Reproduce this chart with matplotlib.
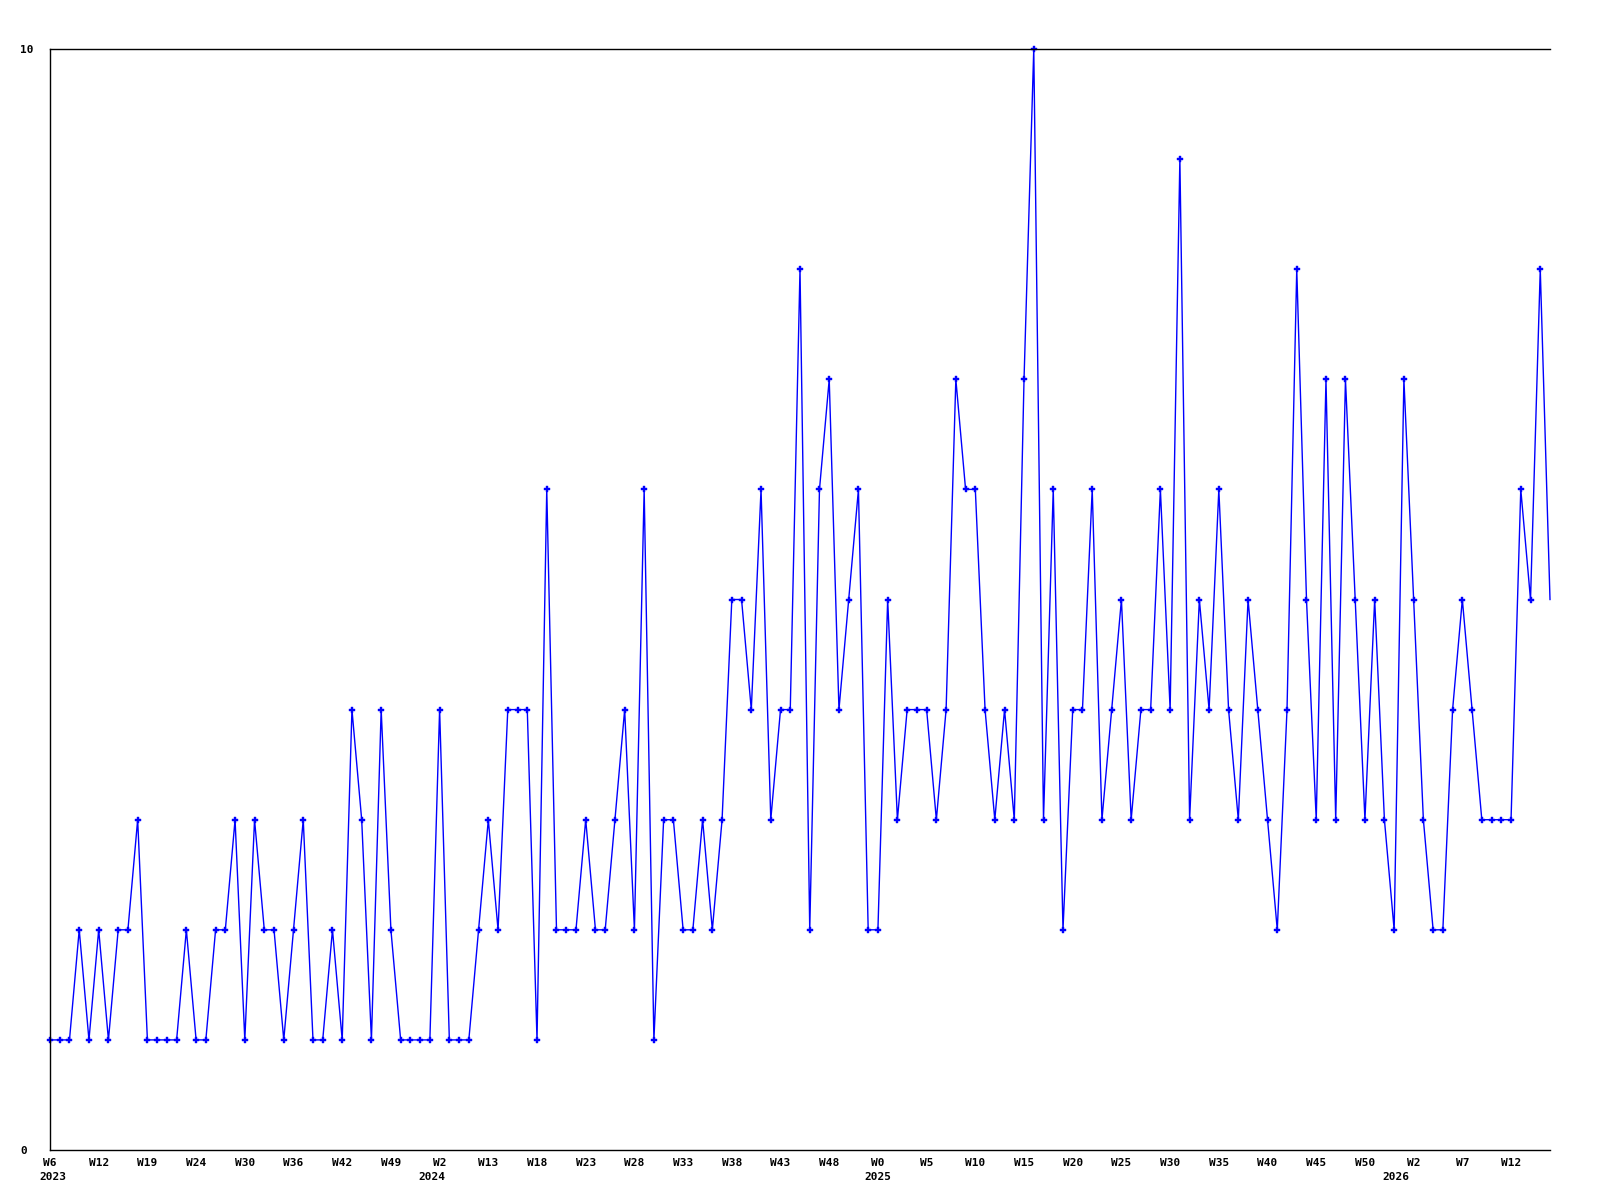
import matplotlib
matplotlib.use("Agg")
import matplotlib.pyplot as plt
import numpy as np

# weekly counts, W6 2023 .. W16 2026
values = [
    1, 1, 1, 2, 1, 2, 1, 2, 2, 3,
    1, 1, 1, 1, 2, 1, 1, 2, 2, 3,
    1, 3, 2, 2, 1, 2, 3, 1, 1, 2,
    1, 4, 3, 1, 4, 2, 1, 1, 1, 1,
    4, 1, 1, 1, 2, 3, 2, 4, 4, 4,
    1, 6, 2, 2, 2, 3, 2, 2, 3, 4,
    2, 6, 1, 3, 3, 2, 2, 3, 2, 3,
    5, 5, 4, 6, 3, 4, 4, 8, 2, 6,
    7, 4, 5, 6, 2, 2, 5, 3, 4, 4,
    4, 3, 4, 7, 6, 6, 4, 3, 4, 3,
    7, 10, 3, 6, 2, 4, 4, 6, 3, 4,
    5, 3, 4, 4, 6, 4, 9, 3, 5, 4,
    6, 4, 3, 5, 4, 3, 2, 4, 8, 5,
    3, 7, 3, 7, 5, 3, 5, 3, 2, 7,
    5, 3, 2, 2, 4, 5, 4, 3, 3, 3,
    3, 6, 5, 8, 5,
]

week_labels = ["W6", "W12", "W19", "W24", "W30", "W36", "W42", "W49",
               "W2", "W13", "W18", "W23", "W28", "W33", "W38", "W43", "W48",
               "W0", "W5", "W10", "W15", "W20", "W25", "W30", "W35", "W40",
               "W45", "W50", "W2", "W7", "W12"]
years = ["2023", "2024", "2025", "2026"]
year_start = [0.3, 39.2, 85, 138.2]  # week index where each year begins

font = {"family": "DejaVu Sans Mono", "weight": "bold", "size": 8}

fig = plt.figure(figsize=(16, 12), dpi=100)
ax = fig.add_axes([50 / 1600, 50 / 1200, 1500 / 1600, 1101 / 1200])

x = np.arange(len(values))
ax.plot(x, values, color="#0000ff", lw=1, marker="P", ms=4,
        markeredgewidth=0.3, markevery=slice(0, len(values) - 1),
        clip_on=False)

ax.set_xlim(0, len(values) - 1)
ax.set_ylim(0, 10)

for s in ["left", "bottom", "top"]:
    ax.spines[s].set_color("black")
    ax.spines[s].set_linewidth(1)
ax.spines["right"].set_visible(False)

ticks = np.arange(0, len(values), 5)
ax.set_xticks(ticks)
ax.set_xticklabels(week_labels, **font)
ax.set_yticks([0, 10])
ax.set_yticklabels(["0", "10"], **font)
ax.tick_params(axis="x", length=0, pad=6)
ax.tick_params(axis="y", length=0, pad=21.5)
for lab in ax.get_yticklabels():
    lab.set_horizontalalignment("left")

for yr, pos in zip(years, year_start):
    ax.annotate(yr, xy=(pos, 0), xycoords=("data", "axes fraction"),
                xytext=(0, -27), textcoords="offset pixels",
                ha="center", va="center", **font)

fig.savefig("out.png", dpi=100)
